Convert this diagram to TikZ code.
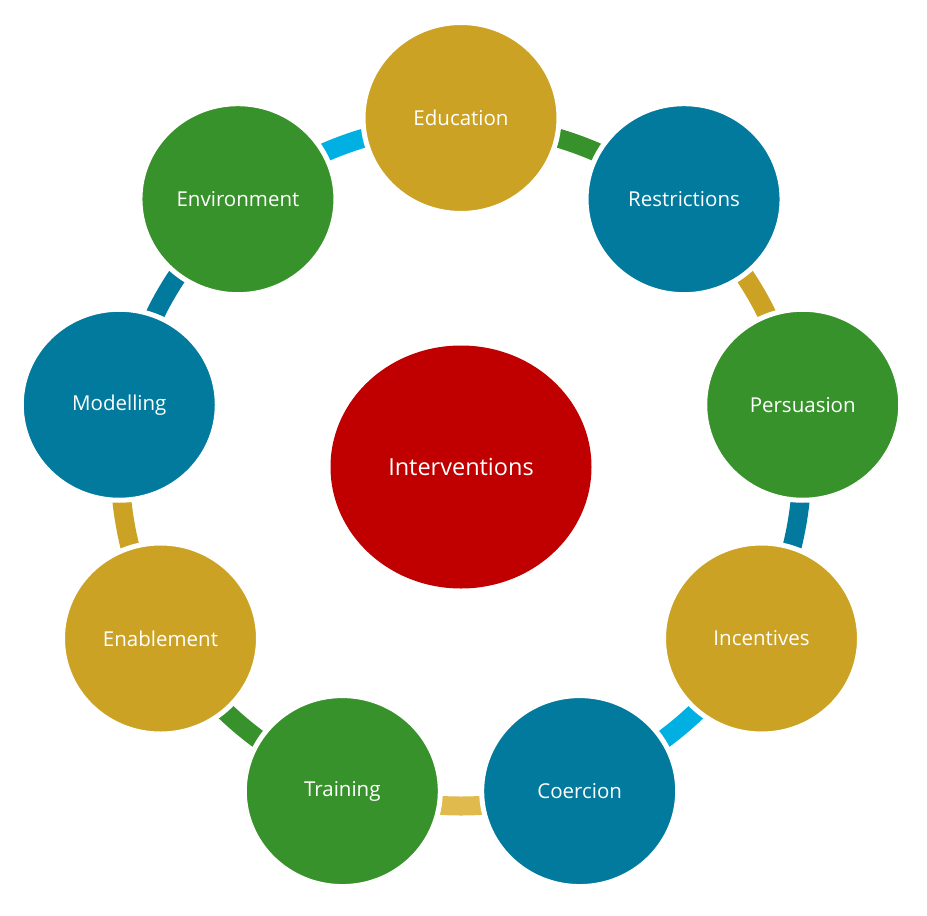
\documentclass[tikz,border=0pt]{standalone}
\usepackage{fontspec}
\setmainfont{Open Sans}
\usetikzlibrary{shapes.geometric,calc,backgrounds}
\definecolor{cgold}{RGB}{204,162,36}
\definecolor{cteal}{RGB}{1,122,157}
\definecolor{cgreen}{RGB}{56,146,43}
\definecolor{cred}{RGB}{192,0,0}
\definecolor{ccyan}{RGB}{0,176,226}
\definecolor{clgold}{RGB}{224,186,76}
\tikzset{
  bub/.style={ellipse,draw=white,line width=5pt,minimum width=196pt,minimum height=191pt,text=white,font=\fontsize{20.5}{24}\selectfont},
  hub/.style={ellipse,fill=cred,minimum width=261pt,minimum height=243pt,text=white,font=\fontsize{23.5}{28}\selectfont},
  link/.style={line width=19pt}
}

\begin{document}
\begin{tikzpicture}[x=1pt,y=1pt]
\useasboundingbox (0,0) rectangle (927,-916);
\coordinate (mid) at (461,-465);
\node[hub] (hub) at (461,-467) {Interventions};
\foreach \n/\a/\c/\t in {edu/90/cgold/Education,res/50/cteal/Restrictions,per/10/cgreen/Persuasion,
  inc/-30/cgold/Incentives,coe/-70/cteal/Coercion,tra/-110/cgreen/Training,
  ena/-150/cgold/Enablement,mod/170/cteal/Modelling,env/130/cgreen/Environment}
  \node[bub,fill=\c] (\n) at ($(mid)+(\a:347)$) {\t};
% ring pieces between the bubbles
\begin{scope}[on background layer]
\foreach \n/\a/\c in {edu/90/cgreen,res/50/cgold,per/10/cteal,inc/-30/ccyan,coe/-70/clgold,
  tra/-110/cgreen,ena/-150/cgold,mod/170/cteal,env/130/ccyan}
  \draw[link,\c] ($(mid)+(\a:341)$) arc[start angle=\a,delta angle=-40,radius=341];
\end{scope}
\end{tikzpicture}
\end{document}
